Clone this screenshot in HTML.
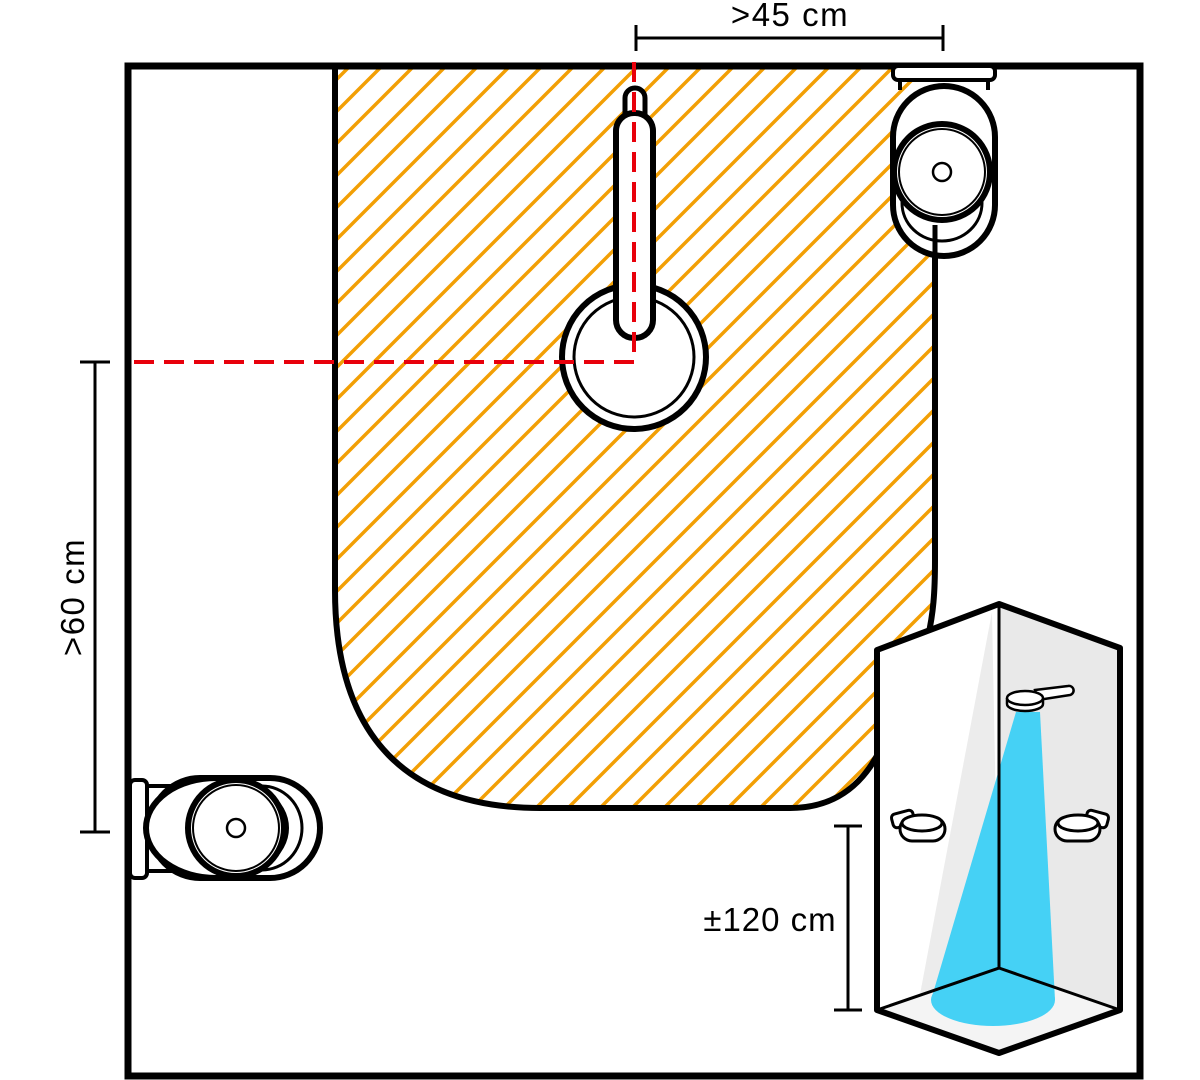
<!DOCTYPE html>
<html><head><meta charset="utf-8"><style>html,body{margin:0;padding:0;background:#fff}svg{display:block}</style></head>
<body>
<svg width="1200" height="1080" viewBox="0 0 1200 1080" xmlns="http://www.w3.org/2000/svg">
<defs>
<pattern id="h" patternUnits="userSpaceOnUse" width="32" height="32">
<path d="M-4,36 L36,-4 M-4,4 L4,-4 M28,36 L36,28" stroke="#f29f05" stroke-width="3.5"/>
</pattern>
</defs>
<rect width="1200" height="1080" fill="#fff"/>
<!-- hatched zone -->
<path d="M335,66 V590 C335,740 410,808 540,808 H790 C830,808 860,790 880,750 C930,660 935,620 935,560 V66 Z" fill="url(#h)"/>
<path d="M335,66 V590 C335,740 410,808 540,808 H790 C830,808 860,790 880,750 C930,660 935,620 935,560 V230" fill="none" stroke="#000" stroke-width="6"/>
<!-- room -->
<rect x="128" y="66" width="1012" height="1010" fill="none" stroke="#000" stroke-width="7"/>
<!-- basin -->
<circle cx="634" cy="357" r="72" fill="#fff" stroke="#000" stroke-width="6"/>
<circle cx="634" cy="357" r="60" fill="#fff" stroke="#000" stroke-width="3"/>
<rect x="625" y="88" width="20" height="50" rx="10" fill="#fff" stroke="#000" stroke-width="5"/>
<rect x="616" y="113" width="37" height="225" rx="18" fill="#fff" stroke="#000" stroke-width="6"/>
<!-- red dashes -->
<path d="M634,62 V362 H128" fill="none" stroke="#e8000b" stroke-width="4" stroke-dasharray="20,10"/>
<!-- top right toilet -->
<rect x="893" y="66" width="102" height="14" rx="5" fill="#fff" stroke="#000" stroke-width="4"/>
<path d="M900,80 V90 M988,80 V90" fill="none" stroke="#000" stroke-width="4"/>
<rect x="893" y="86" width="102" height="170" rx="51" fill="#fff" stroke="#000" stroke-width="6"/>
<ellipse cx="942" cy="203" rx="40" ry="38" fill="#fff" stroke="#000" stroke-width="3"/>
<path d="M935,225 V256" stroke="#000" stroke-width="5"/>
<circle cx="942" cy="172" r="48" fill="#fff" stroke="#000" stroke-width="6"/>
<circle cx="942" cy="172" r="43" fill="none" stroke="#000" stroke-width="2"/>
<circle cx="942" cy="172" r="9" fill="#fff" stroke="#000" stroke-width="2.5"/>
<!-- left toilet -->
<rect x="130" y="780" width="17" height="98" rx="5" fill="#fff" stroke="#000" stroke-width="4"/>
<path d="M147,786 H175 M147,871 H175" stroke="#000" stroke-width="4"/>
<rect x="150" y="778" width="170" height="100" rx="50" fill="#fff" stroke="#000" stroke-width="6"/>
<ellipse cx="262" cy="828" rx="40" ry="42" fill="#fff" stroke="#000" stroke-width="3"/>
<ellipse cx="216" cy="828" rx="70" ry="50" fill="#fff" stroke="#000" stroke-width="6"/>
<circle cx="236" cy="828" r="48" fill="#fff" stroke="#000" stroke-width="6"/>
<circle cx="236" cy="828" r="43" fill="none" stroke="#000" stroke-width="2"/>
<circle cx="236" cy="828" r="9" fill="#fff" stroke="#000" stroke-width="2.5"/>
<!-- shower -->
<polygon points="877,650 999,604 1120,648 1120,1010 999,1053 877,1010" fill="#fff"/>
<polygon points="999,604 1120,648 1120,1010 999,968" fill="#e9e9e9"/>
<polygon points="992,612 999,968 918,1005" fill="#ececec"/>
<polygon points="999,968 1120,1010 999,1053 877,1010" fill="#f4f4f4"/>
<polygon points="1016,712 1040,712 1055,1000 931,1000" fill="#45d1f5"/>
<ellipse cx="993" cy="1000" rx="62" ry="26" fill="#45d1f5"/>
<path d="M999,604 V968 L877,1010 M999,968 L1120,1010" fill="none" stroke="#000" stroke-width="3"/>
<polygon points="877,650 999,604 1120,648 1120,1010 999,1053 877,1010" fill="none" stroke="#000" stroke-width="6" stroke-linejoin="round"/>
<!-- shower head -->
<path d="M1035,690 L1068,686 A3,3 0 0 1 1070,695 L1038,700 Z" fill="#fff" stroke="#000" stroke-width="2.5"/>
<path d="M1007,698 V704 A18,7 0 0 0 1043,704 V698" fill="#fff" stroke="#000" stroke-width="2.5"/>
<ellipse cx="1025" cy="698" rx="18" ry="7" fill="#fff" stroke="#000" stroke-width="2.5"/>
<!-- soap dishes -->
<g fill="#fff" stroke="#000" stroke-width="3">
<rect x="892" y="812" width="22" height="14" rx="4" transform="rotate(-15 903 819)"/>
<rect x="900" y="817" width="45" height="24" rx="12"/>
<ellipse cx="922" cy="823" rx="20" ry="8"/>
<rect x="1086" y="812" width="22" height="14" rx="4" transform="rotate(15 1097 819)"/>
<rect x="1055" y="817" width="45" height="24" rx="12"/>
<ellipse cx="1078" cy="823" rx="20" ry="8"/>
</g>
<!-- dimensions -->
<g stroke="#000" stroke-width="3" fill="none">
<path d="M636,38 H943 M636,25 V51 M943,25 V51"/>
<path d="M95,362 V832 M80,362 H110 M80,832 H110"/>
<path d="M848,826 V1010 M834,826 H862 M834,1010 H862"/>
</g>
<g font-family="Liberation Sans, sans-serif" font-size="33" fill="#000">
<text x="790" y="26" text-anchor="middle" letter-spacing="1.5">&gt;45 cm</text>
<text transform="translate(84,597) rotate(-90)" text-anchor="middle" letter-spacing="1.5">&gt;60 cm</text>
<text x="770" y="931" text-anchor="middle" letter-spacing="1">±120 cm</text>
</g>
</svg>
</body></html>
